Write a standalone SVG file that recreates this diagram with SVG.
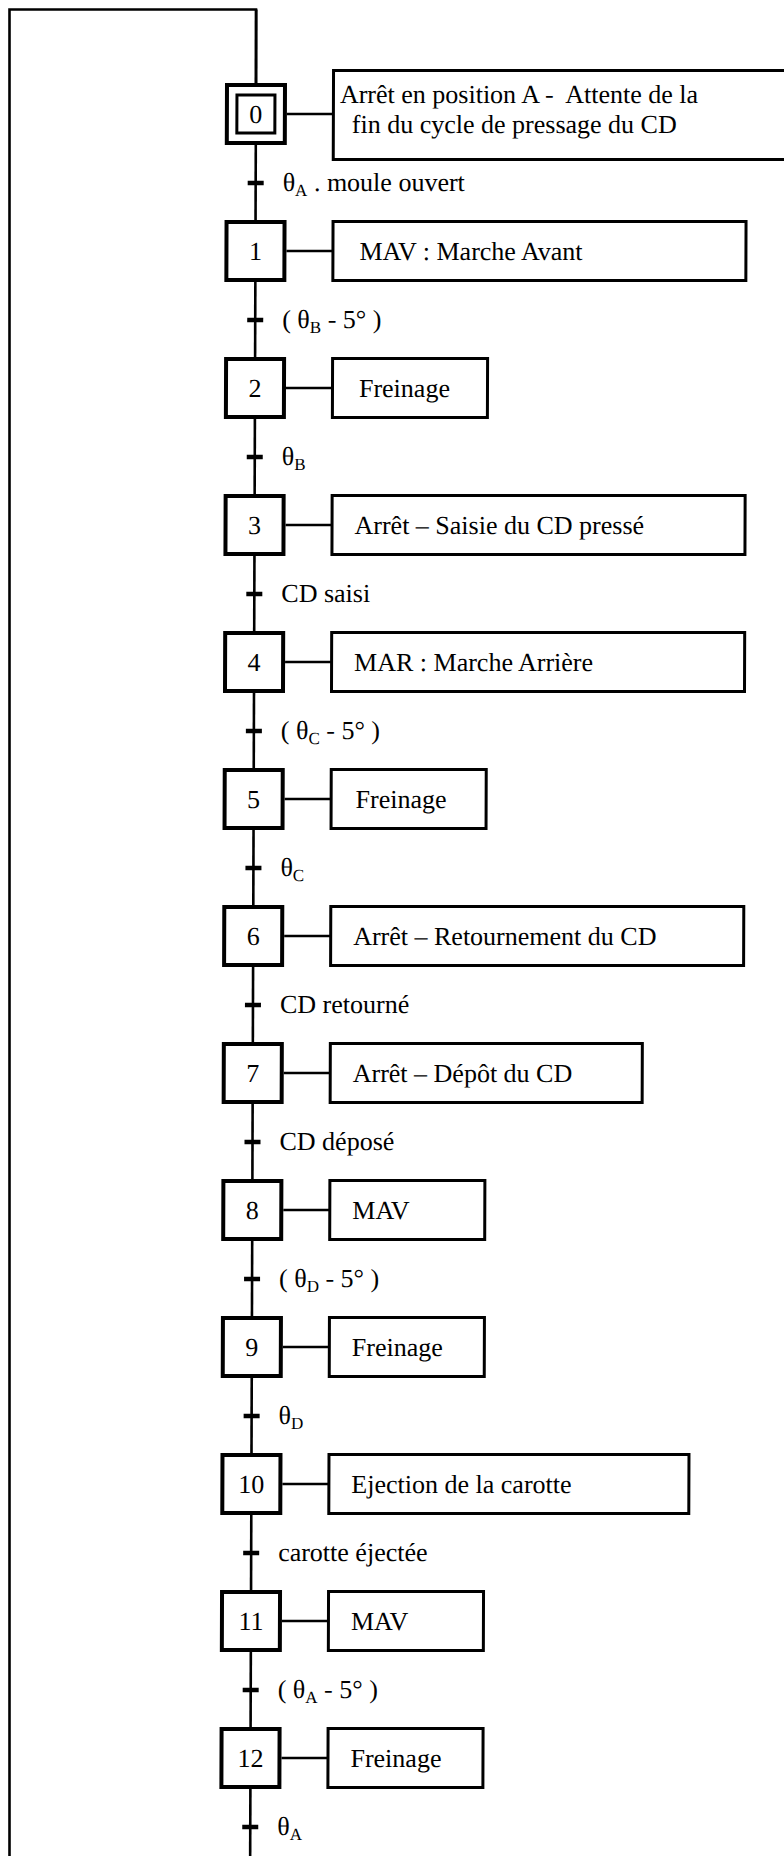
<svg xmlns="http://www.w3.org/2000/svg" width="784" height="1856" viewBox="0 0 784 1856">
  <style>
    .step { fill: #fff; stroke: #000; stroke-width: 4; }
    .inner { fill: none; stroke: #000; stroke-width: 3; }
    .act { fill: #fff; stroke: #000; stroke-width: 3; }
    .wire { fill: none; stroke: #000; stroke-width: 2.6; }
    .tick { stroke: #000; stroke-width: 4.5; }
    text { font-family: "Liberation Serif", "Times New Roman", serif; font-size: 26px; fill: #000; }
    .num { text-anchor: middle; }
    .sub { font-size: 17px; }
  </style>
  <rect x="0" y="0" width="784" height="1856" fill="#fff"/>

  <!-- return loop from the last transition back to the initial step -->
  <g id="loop">
    <path class="wire" d="M256,83 V9.5 H9.5 V1870"/>
  </g>

  <!-- the whole step column leans very slightly to the left -->
  <g transform="matrix(1 0 -0.00329 1 0.273 0)">
    <g id="connectors">
      <line class="wire" x1="256" y1="9.5" x2="256" y2="1870"/>
      <!-- step-to-action links -->
      <line class="wire" x1="287" y1="114" x2="334" y2="114"/>
      <line class="wire" x1="287" y1="251" x2="334" y2="251"/>
      <line class="wire" x1="287" y1="388" x2="334" y2="388"/>
      <line class="wire" x1="287" y1="525" x2="334" y2="525"/>
      <line class="wire" x1="287" y1="662" x2="334" y2="662"/>
      <line class="wire" x1="287" y1="799" x2="334" y2="799"/>
      <line class="wire" x1="287" y1="936" x2="334" y2="936"/>
      <line class="wire" x1="287" y1="1073" x2="334" y2="1073"/>
      <line class="wire" x1="287" y1="1210" x2="334" y2="1210"/>
      <line class="wire" x1="287" y1="1347" x2="334" y2="1347"/>
      <line class="wire" x1="287" y1="1484" x2="334" y2="1484"/>
      <line class="wire" x1="287" y1="1621" x2="334" y2="1621"/>
      <line class="wire" x1="287" y1="1758" x2="334" y2="1758"/>
    </g>

    <!-- transitions -->
    <g id="t0"><line class="tick" x1="248" y1="183" x2="264" y2="183"/><text x="283" y="191">θ<tspan class="sub" dy="5">A</tspan><tspan dy="-5"> . moule ouvert</tspan></text></g>
    <g id="t1"><line class="tick" x1="248" y1="320" x2="264" y2="320"/><text x="283" y="328">( θ<tspan class="sub" dy="5">B</tspan><tspan dy="-5"> - 5° )</tspan></text></g>
    <g id="t2"><line class="tick" x1="248" y1="457" x2="264" y2="457"/><text x="283" y="465">θ<tspan class="sub" dy="5">B</tspan></text></g>
    <g id="t3"><line class="tick" x1="248" y1="594" x2="264" y2="594"/><text x="283" y="602">CD saisi</text></g>
    <g id="t4"><line class="tick" x1="248" y1="731" x2="264" y2="731"/><text x="283" y="739">( θ<tspan class="sub" dy="5">C</tspan><tspan dy="-5"> - 5° )</tspan></text></g>
    <g id="t5"><line class="tick" x1="248" y1="868" x2="264" y2="868"/><text x="283" y="876">θ<tspan class="sub" dy="5">C</tspan></text></g>
    <g id="t6"><line class="tick" x1="248" y1="1005" x2="264" y2="1005"/><text x="283" y="1013">CD retourné</text></g>
    <g id="t7"><line class="tick" x1="248" y1="1142" x2="264" y2="1142"/><text x="283" y="1150">CD déposé</text></g>
    <g id="t8"><line class="tick" x1="248" y1="1279" x2="264" y2="1279"/><text x="283" y="1287">( θ<tspan class="sub" dy="5">D</tspan><tspan dy="-5"> - 5° )</tspan></text></g>
    <g id="t9"><line class="tick" x1="248" y1="1416" x2="264" y2="1416"/><text x="283" y="1424">θ<tspan class="sub" dy="5">D</tspan></text></g>
    <g id="t10"><line class="tick" x1="248" y1="1553" x2="264" y2="1553"/><text x="283" y="1561">carotte éjectée</text></g>
    <g id="t11"><line class="tick" x1="248" y1="1690" x2="264" y2="1690"/><text x="283" y="1698">( θ<tspan class="sub" dy="5">A</tspan><tspan dy="-5"> - 5° )</tspan></text></g>
    <g id="t12"><line class="tick" x1="248" y1="1827" x2="264" y2="1827"/><text x="283" y="1835">θ<tspan class="sub" dy="5">A</tspan></text></g>

    <!-- steps with their actions -->
    <g id="step0">
      <rect class="step" x="227" y="85" width="58" height="58"/>
      <rect class="inner" x="237" y="95" width="38" height="38"/>
      <text class="num" x="256" y="123">0</text>
      <rect class="act" x="333.5" y="70.5" width="470" height="89"/>
      <text x="340" y="103">Arrêt en position A -&#160; Attente de la</text>
      <text x="352" y="133">fin du cycle de pressage du CD</text>
    </g>
    <g id="step1">
      <rect class="step" x="227" y="222" width="58" height="58"/>
      <text class="num" x="256" y="260">1</text>
      <rect class="act" x="333.5" y="221.5" width="413" height="59"/>
      <text x="360" y="260">MAV : Marche Avant</text>
    </g>
    <g id="step2">
      <rect class="step" x="227" y="359" width="58" height="58"/>
      <text class="num" x="256" y="397">2</text>
      <rect class="act" x="333.5" y="358.5" width="155" height="59"/>
      <text x="360" y="397">Freinage</text>
    </g>
    <g id="step3">
      <rect class="step" x="227" y="496" width="58" height="58"/>
      <text class="num" x="256" y="534">3</text>
      <rect class="act" x="333.5" y="495.5" width="413" height="59"/>
      <text x="356" y="534">Arrêt – Saisie du CD pressé</text>
    </g>
    <g id="step4">
      <rect class="step" x="227" y="633" width="58" height="58"/>
      <text class="num" x="256" y="671">4</text>
      <rect class="act" x="333.5" y="632.5" width="413" height="59"/>
      <text x="356" y="671">MAR : Marche Arrière</text>
    </g>
    <g id="step5">
      <rect class="step" x="227" y="770" width="58" height="58"/>
      <text class="num" x="256" y="808">5</text>
      <rect class="act" x="333.5" y="769.5" width="155" height="59"/>
      <text x="358" y="808">Freinage</text>
    </g>
    <g id="step6">
      <rect class="step" x="227" y="907" width="58" height="58"/>
      <text class="num" x="256" y="945">6</text>
      <rect class="act" x="333.5" y="906.5" width="413" height="59"/>
      <text x="356" y="945">Arrêt – Retournement du CD</text>
    </g>
    <g id="step7">
      <rect class="step" x="227" y="1044" width="58" height="58"/>
      <text class="num" x="256" y="1082">7</text>
      <rect class="act" x="333.5" y="1043.5" width="312" height="59"/>
      <text x="356" y="1082">Arrêt – Dépôt du CD</text>
    </g>
    <g id="step8">
      <rect class="step" x="227" y="1181" width="58" height="58"/>
      <text class="num" x="256" y="1219">8</text>
      <rect class="act" x="333.5" y="1180.5" width="155" height="59"/>
      <text x="356" y="1219">MAV</text>
    </g>
    <g id="step9">
      <rect class="step" x="227" y="1318" width="58" height="58"/>
      <text class="num" x="256" y="1356">9</text>
      <rect class="act" x="333.5" y="1317.5" width="155" height="59"/>
      <text x="356" y="1356">Freinage</text>
    </g>
    <g id="step10">
      <rect class="step" x="227" y="1455" width="58" height="58"/>
      <text class="num" x="256" y="1493">10</text>
      <rect class="act" x="333.5" y="1454.5" width="360" height="59"/>
      <text x="356" y="1493">Ejection de la carotte</text>
    </g>
    <g id="step11">
      <rect class="step" x="227" y="1592" width="58" height="58"/>
      <text class="num" x="256" y="1630">11</text>
      <rect class="act" x="333.5" y="1591.5" width="155" height="59"/>
      <text x="356" y="1630">MAV</text>
    </g>
    <g id="step12">
      <rect class="step" x="227" y="1729" width="58" height="58"/>
      <text class="num" x="256" y="1767">12</text>
      <rect class="act" x="333.5" y="1728.5" width="155" height="59"/>
      <text x="356" y="1767">Freinage</text>
    </g>
  </g>
</svg>
